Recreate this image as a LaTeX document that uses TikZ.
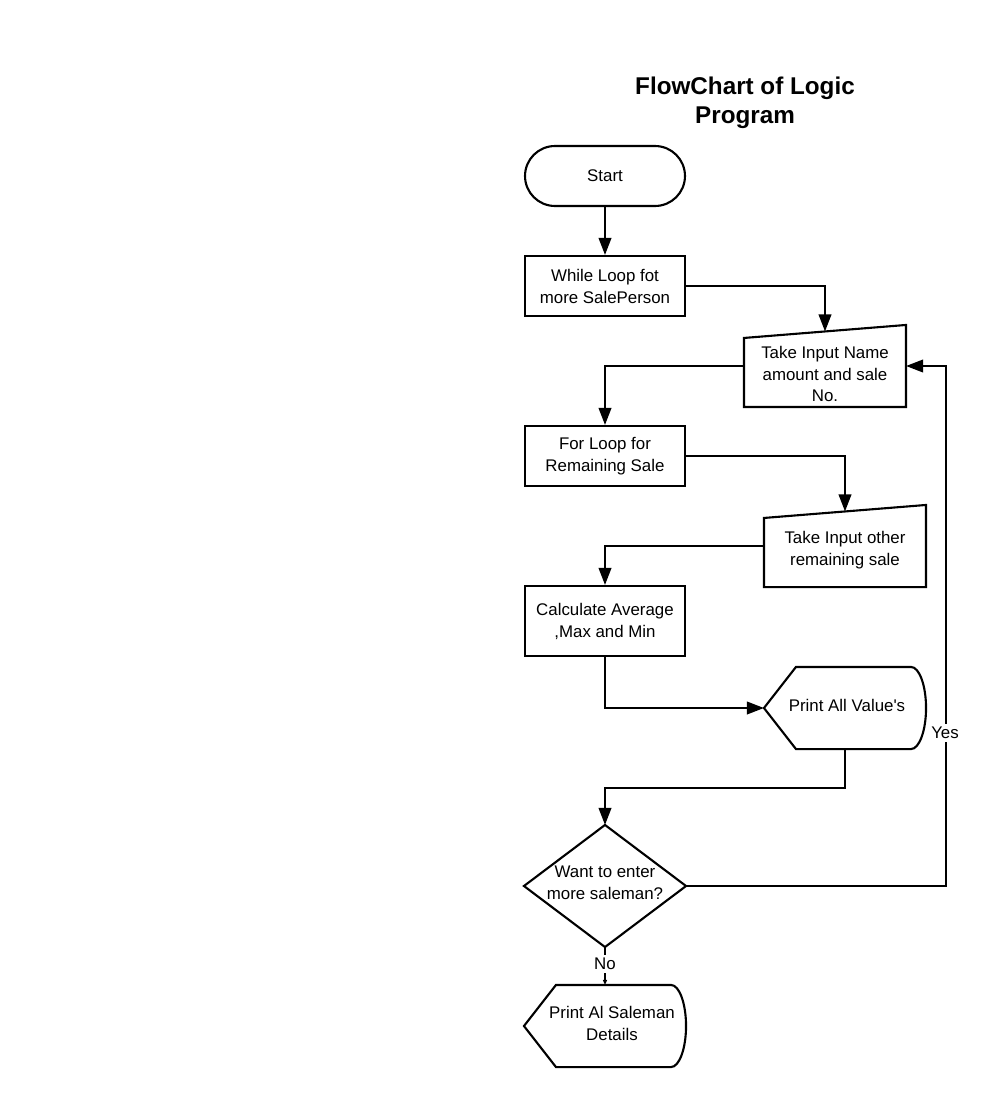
\documentclass[tikz,border=0pt]{standalone}
\usepackage{fontspec}
\setmainfont{Liberation Sans}
\usetikzlibrary{arrows.meta,calc}
\begin{document}
\begin{tikzpicture}[x=0.02cm,y=-0.02cm,
  line width=1.2pt,
  every node/.style={font=\fontsize{9.6pt}{12.5pt}\selectfont, align=center},
  proc/.style={draw, rectangle, minimum width=3.2cm, minimum height=1.2cm, inner sep=0pt},
  term/.style={proc, rounded corners=0.6cm},
  ghost/.style={rectangle, minimum width=3.2cm, minimum height=1.6cm, inner sep=0pt},
  lbl/.style={fill=white, inner sep=1.5pt},
  arr/.style={-{Triangle[length=0.34cm,width=0.25cm]}},
  smallarr/.style={-{Triangle[length=0.1cm,width=0.08cm]}},
]
\useasboundingbox (0,0) rectangle (1000,1106);

\node[font=\bfseries\fontsize{13.8pt}{16.4pt}\selectfont] (title) at (745,103) {FlowChart of Logic\\Program};

\node[term] (start) at (605,176) {Start};
\node[proc] (while) at (605,286) {While Loop fot\\more SalePerson};

% manual input 1
\node[ghost] (tin) at (825,366) {};
\draw ($(tin.north west)+(0,13)$) -- (tin.north east) -- (tin.south east) -- (tin.south west) -- cycle;
\node (tint) at (825,374) {Take Input Name\\amount and sale\\No.};
\coordinate (tintop) at ($($(tin.north west)+(0,13)$)!0.5!(tin.north east)$);

\node[proc] (for) at (605,456) {For Loop for\\Remaining Sale};

% manual input 2
\node[ghost] (tio) at (845,546) {};
\draw ($(tio.north west)+(0,13)$) -- (tio.north east) -- (tio.south east) -- (tio.south west) -- cycle;
\node (tiot) at (845,550) {Take Input other\\remaining sale};
\coordinate (tiotop) at ($($(tio.north west)+(0,13)$)!0.5!(tio.north east)$);

\node[proc, minimum height=1.4cm] (calc) at (605,621) {Calculate Average\\,Max and Min};

% display 1
\node[ghost] (pav) at (845,708) {};
\draw ($(pav.north west)+(32,0)$) -- ($(pav.north east)+(-15,0)$)
  .. controls ($(pav.north east)+(-6.7,0)$) and ($(pav.east)+(0,-22.4)$) .. (pav.east)
  .. controls ($(pav.east)+(0,22.4)$) and ($(pav.south east)+(-6.7,0)$) .. ($(pav.south east)+(-15,0)$)
  -- ($(pav.south west)+(32,0)$) -- (pav.west) -- cycle;
\node (pavt) at (847,705) {Print All Value\textquotesingle s};

% decision
\node[ghost, minimum height=2.4cm] (dm) at (605,886) {};
\draw (dm.north) -- (dm.east) -- (dm.south) -- (dm.west) -- cycle;
\node (dmt) at (605,883) {Want to enter\\more saleman?};

% display 2
\node[ghost] (pad) at (605,1026) {};
\draw ($(pad.north west)+(32,0)$) -- ($(pad.north east)+(-15,0)$)
  .. controls ($(pad.north east)+(-6.7,0)$) and ($(pad.east)+(0,-22.4)$) .. (pad.east)
  .. controls ($(pad.east)+(0,22.4)$) and ($(pad.south east)+(-6.7,0)$) .. ($(pad.south east)+(-15,0)$)
  -- ($(pad.south west)+(32,0)$) -- (pad.west) -- cycle;
\node (padt) at (612,1023) {Print Al Saleman\\Details};

% connectors
\draw[arr] (start) -- (while);
\draw[arr] (while.east) -| (tintop);
\draw[arr] (tin.west) -| (for.north);
\draw[arr] (for.east) -| (tiotop);
\draw[arr] (tio.west) -| (calc.north);
\draw[arr] (calc.south) |- (pav.west);
\draw[arr] (pav.south) -- ++(0,39) -| (dm.north);
\coordinate (yescorner) at ($(tin.east)+(40,0)$);
\draw[arr] (dm.east) -| (yescorner) -- (tin.east);
\node[lbl] (yes) at (945,733) {Yes};
\draw[smallarr] (dm.south) -- (pad.north);
\node[lbl] (no) at (605,964) {No};
\end{tikzpicture}
\end{document}
